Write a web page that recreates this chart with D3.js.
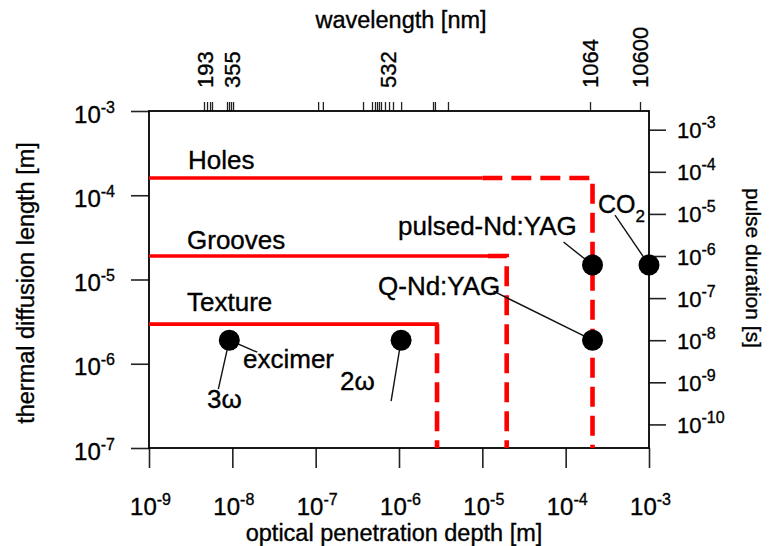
<!DOCTYPE html>
<html>
<head>
<meta charset="utf-8">
<script src="https://cdn.jsdelivr.net/npm/d3@7"></script>
<style>
  html, body { margin: 0; padding: 0; background: #fff; }
  svg { display: block; font-family: "Liberation Sans", Arial, Helvetica, sans-serif; }
  svg text { stroke: #000; stroke-width: 0.35px; }
</style>
</head>
<body>
<svg id="chart" width="769" height="546"></svg>
<script>
// Optical penetration depth (x) vs. thermal diffusion length / pulse duration (y)

// Axis ticks
const depthTicks = [1e-9, 1e-8, 1e-7, 1e-6, 1e-5, 1e-4, 1e-3];
const lengthTicks = [1e-7, 1e-6, 1e-5, 1e-4, 1e-3];
const pulseTicks = [1e-10, 1e-9, 1e-8, 1e-7, 1e-6, 1e-5, 1e-4, 1e-3];

// Wavelength axis (top): penetration depths of the listed materials
const wavelengthRugDepth = [4.57e-9, 4.97e-9, 5.40e-9, 5.70e-9, 8.63e-9, 9.12e-9, 9.64e-9, 1.02e-8,
  1.07e-7, 1.22e-7, 3.70e-7, 4.74e-7, 5.15e-7, 5.45e-7, 5.75e-7, 6.08e-7, 6.79e-7, 7.59e-7,
  8.47e-7, 1.06e-6, 2.56e-6, 2.70e-6, 3.87e-6, 1.96e-4, 7.80e-4];
const wavelengthLabels = ["193", "355", "532", "1064", "10600"];
const wavelengthLabelDepth = [4.75e-9, 9.9e-9, 7.3e-7, 1.96e-4, 7.8e-4];

// Processing regimes: thermal diffusion length limit and depth limits
const processes = ["Holes", "Grooves", "Texture"];
const processLength = [1.6e-4, 1.9e-5, 2.95e-6];
const processSolidEnd = [1.0e-5, 1.17e-5, 3.0e-6];
const processDepthLimit = [2.1e-4, 1.96e-5, 2.86e-6];

// Lasers: optical penetration depth [m] and pulse duration [s]
const lasers = ["excimer 3ω", "excimer 2ω", "Q-Nd:YAG", "pulsed-Nd:YAG", "CO2"];
const laserDepth = [9.2e-9, 1.06e-6, 2.1e-4, 2.1e-4, 1.0e-3];
const laserPulse = [1e-8, 1e-8, 1e-8, 6.1e-7, 6.1e-7];

const svg = d3.select("#chart");
const mLeft = 149, mRight = 649, mTop = 111, mBottom = 448;

const x = d3.scaleLog().domain([1e-9, 1e-3]).range([mLeft, mRight]);
const yL = d3.scaleLog().domain([1e-7, 1e-3]).range([mBottom, mTop]);
// pulse duration scale: t ∝ L², two decades of t per decade of L
const yR = d3.scaleLog().domain([Math.pow(10, -10.56), Math.pow(10, -2.556)]).range([mBottom, mTop]);

const exp10 = v => Math.round(Math.log10(v));
const tickColor = "#222";

function powerLabel(sel, size, supSize, supDy) {
  sel.each(function(d) {
    const t = d3.select(this);
    t.text(null);
    t.append("tspan").attr("font-size", size).text("10");
    t.append("tspan").attr("font-size", supSize).attr("dy", supDy).text(exp10(d));
  });
}

// Left axis: thermal diffusion length
const gL = svg.append("g").attr("transform", `translate(${mLeft},0)`)
  .call(d3.axisLeft(yL).tickValues(lengthTicks).tickSizeInner(18).tickSizeOuter(0).tickFormat(() => ""));
gL.select(".domain").remove();
gL.selectAll(".tick line").attr("stroke", tickColor).attr("stroke-width", 1.6);
gL.selectAll(".tick").append("text")
  .attr("x", -34).attr("y", 11).attr("text-anchor", "end").attr("fill", "#000")
  .call(powerLabel, 24, 16, -10);

// Bottom axis: optical penetration depth
const gB = svg.append("g").attr("transform", `translate(0,${mBottom})`)
  .call(d3.axisBottom(x).tickValues(depthTicks).tickSizeInner(20).tickSizeOuter(0).tickFormat(() => ""));
gB.select(".domain").remove();
gB.selectAll(".tick line").attr("stroke", tickColor).attr("stroke-width", 1.6);
gB.selectAll(".tick").append("text")
  .attr("x", 1).attr("y", 67).attr("text-anchor", "middle").attr("fill", "#000")
  .call(powerLabel, 24, 16, -10);

// Right axis: pulse duration
const gR = svg.append("g").attr("transform", `translate(${mRight},0)`)
  .call(d3.axisRight(yR).tickValues(pulseTicks).tickSizeInner(17).tickSizeOuter(0).tickFormat(() => ""));
gR.select(".domain").remove();
gR.selectAll(".tick line").attr("stroke", tickColor).attr("stroke-width", 1.6);
gR.selectAll(".tick").append("text")
  .attr("x", 28).attr("y", 8).attr("text-anchor", "start").attr("fill", "#000")
  .call(powerLabel, 22, 16, -10);

// Top axis: wavelength rug
const gT = svg.append("g").attr("transform", `translate(0,${mTop})`)
  .call(d3.axisTop(x).tickValues(wavelengthRugDepth).tickSizeInner(9).tickSizeOuter(0).tickFormat(() => ""));
gT.select(".domain").remove();
gT.selectAll(".tick line").attr("stroke", tickColor).attr("stroke-width", 1.3);
svg.append("g").selectAll("text")
  .data(wavelengthLabels)
  .join("text")
  .attr("transform", (d, i) => `translate(${x(wavelengthLabelDepth[i])},88) rotate(-90)`)
  .attr("dy", "0.36em")
  .attr("font-size", 22)
  .attr("fill", "#000")
  .text(d => d);

// Frame
svg.append("rect")
  .attr("x", mLeft).attr("y", mTop)
  .attr("width", mRight - mLeft).attr("height", mBottom - mTop)
  .attr("fill", "none").attr("stroke", "#000").attr("stroke-width", 1.8);

// Axis titles
svg.append("text").attr("x", 401).attr("y", 28).attr("text-anchor", "middle")
  .attr("font-size", 23.5).text("wavelength [nm]");
svg.append("text").attr("x", 394).attr("y", 541).attr("text-anchor", "middle")
  .attr("font-size", 23.5).text("optical penetration depth [m]");
svg.append("text").attr("transform", "translate(34,283) rotate(-90)").attr("text-anchor", "middle")
  .attr("font-size", 23.5).text("thermal diffusion length [m]");
svg.append("text").attr("transform", "translate(746,268) rotate(90)").attr("text-anchor", "middle")
  .attr("font-size", 21).text("pulse duration [s]");

// Processing regime limits
const red = "#ff0000";
const gP = svg.append("g");
processes.forEach((name, i) => {
  const yv = yL(processLength[i]);
  gP.append("line")
    .attr("x1", mLeft).attr("x2", x(processSolidEnd[i]))
    .attr("y1", yv).attr("y2", yv)
    .attr("stroke", red).attr("stroke-width", 3.6);
  const p = d3.path();
  const xs = Math.min(x(processSolidEnd[i]), x(processDepthLimit[i]));
  p.moveTo(xs, yv);
  p.lineTo(x(processDepthLimit[i]), yv);
  p.lineTo(x(processDepthLimit[i]), mBottom);
  gP.append("path").attr("d", p.toString())
    .attr("fill", "none").attr("stroke", red).attr("stroke-width", 4.6)
    .attr("stroke-dasharray", "20,9");
});

// Regime names
const processLabelPos = [[188, 169], [187, 249], [187, 311]];
gP.selectAll("text.proc")
  .data(processes)
  .join("text").attr("class", "proc")
  .attr("x", (d, i) => processLabelPos[i][0])
  .attr("y", (d, i) => processLabelPos[i][1])
  .attr("font-size", 26)
  .text(d => d);

// Laser annotations: leader lines (pixel offsets from the point) and labels
const leaders = [
  [[28, 12], [-11, 49]],
  [[-10, 61]],
  [[-99, -49]],
  [[-29, -23]],
  [[-34, -50]]
];
const gA = svg.append("g");
lasers.forEach((name, i) => {
  const cx = x(laserDepth[i]), cy = yR(laserPulse[i]);
  leaders[i].forEach(([dx, dy]) => {
    gA.append("line")
      .attr("x1", cx).attr("y1", cy).attr("x2", cx + dx).attr("y2", cy + dy)
      .attr("stroke", "#111").attr("stroke-width", 1.4);
  });
});

gA.selectAll("circle")
  .data(lasers)
  .join("circle")
  .attr("cx", (d, i) => x(laserDepth[i]))
  .attr("cy", (d, i) => yR(laserPulse[i]))
  .attr("r", 10.5)
  .attr("fill", "#000");

const labelSize = 26;
const txt = (xp, yp, s, size) => gA.append("text").attr("x", xp).attr("y", yp)
  .attr("font-size", size || labelSize).attr("fill", "#000").text(s);
txt(243, 368, "excimer");
txt(207, 408, "3ω");
txt(340, 390, "2ω");
txt(378, 295, "Q-Nd:YAG");
txt(398, 235, "pulsed-Nd:YAG");
const co = txt(598, 213, "CO", 25);
co.append("tspan").attr("font-size", 17).attr("dy", 9).text("2");
</script>
</body>
</html>
